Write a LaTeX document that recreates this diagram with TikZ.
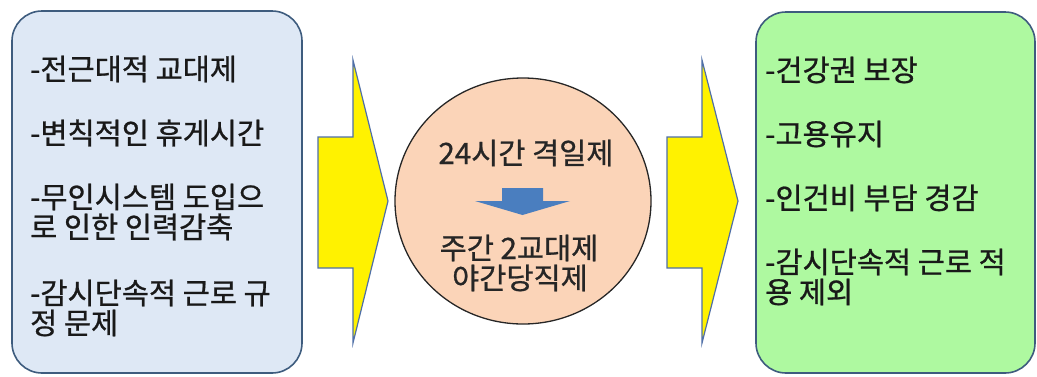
\documentclass[tikz,border=0pt]{standalone}
\usepackage{fontspec}
\newfontfamily\kr[RawFeature={embolden=0.8}]{Noto Sans CJK KR}
\definecolor{leftfill}{HTML}{DEE8F5}
\definecolor{rightfill}{HTML}{AEF9A0}
\definecolor{boxline}{HTML}{3E5C7E}
\definecolor{arrowline}{HTML}{4F6FA8}
\definecolor{peach}{HTML}{FBD4B8}
\definecolor{bluearrow}{HTML}{4A7EBF}
\begin{document}
\begin{tikzpicture}[x=1pt,y=-1pt,
  panel/.style={draw=boxline, line width=1.6pt, rounded corners=30pt},
  txt/.style={anchor=west, inner sep=0pt, font=\kr\fontsize{29.5}{30}\selectfont, text=black!90},
  ctxt/.style={anchor=center, inner sep=0pt, font=\kr\fontsize{29.5}{30}\selectfont, text=black!85},
  bigarrow/.style={fill=yellow, draw=arrowline, line width=1.2pt, line join=miter}]
\useasboundingbox (0,0) rectangle (1037,376);
% left panel
\draw[panel, fill=leftfill] (12,11) rectangle (302,373);
\node[txt] (l1) at (30,69) {-전근대적 교대제};
\node[txt] (l2) at (30,133) {-변칙적인 휴게시간};
\node[txt] (l3) at (30,197) {-무인시스템 도입으};
\node[txt] (l4) at (30,227) {로 인한 인력감축};
\node[txt] (l5) at (30,293) {-감시단속적 근로 규};
\node[txt] (l6) at (30,323) {정 문제};
% right panel
\draw[panel, fill=rightfill] (756,12) rectangle (1035,373);
\node[txt] (r1) at (765,70) {-건강권 보장};
\node[txt] (r2) at (765,134) {-고용유지};
\node[txt] (r3) at (765,198) {-인건비 부담 경감};
\node[txt] (r4) at (765,262) {-감시단속적 근로 적};
\node[txt] (r5) at (765,292) {용 제외};
% yellow arrows
\draw[bigarrow] (318,137) -- (353,137) -- (353,60) -- (388,201) -- (353,343) -- (353,268) -- (318,268) -- cycle;
\draw[bigarrow] (667,137) -- (702,137) -- (702,60) -- (738,201) -- (702,343) -- (702,268) -- (667,268) -- cycle;
% circle
\draw[fill=peach, draw=black!85, line width=1.3pt] (523,201) ellipse [x radius=128pt, y radius=123pt];
\node[ctxt] (c1) at (526,153) {24시간 격일제};
\node[ctxt] (c2) at (519,248) {주간 2교대제};
\node[ctxt] (c3) at (520,278) {야간당직제};
% small blue arrow
\fill[bluearrow] (502,188) -- (543,188) -- (543,201) -- (570,201) -- (522.5,215) -- (475,201) -- (502,201) -- cycle;
\end{tikzpicture}
\end{document}
